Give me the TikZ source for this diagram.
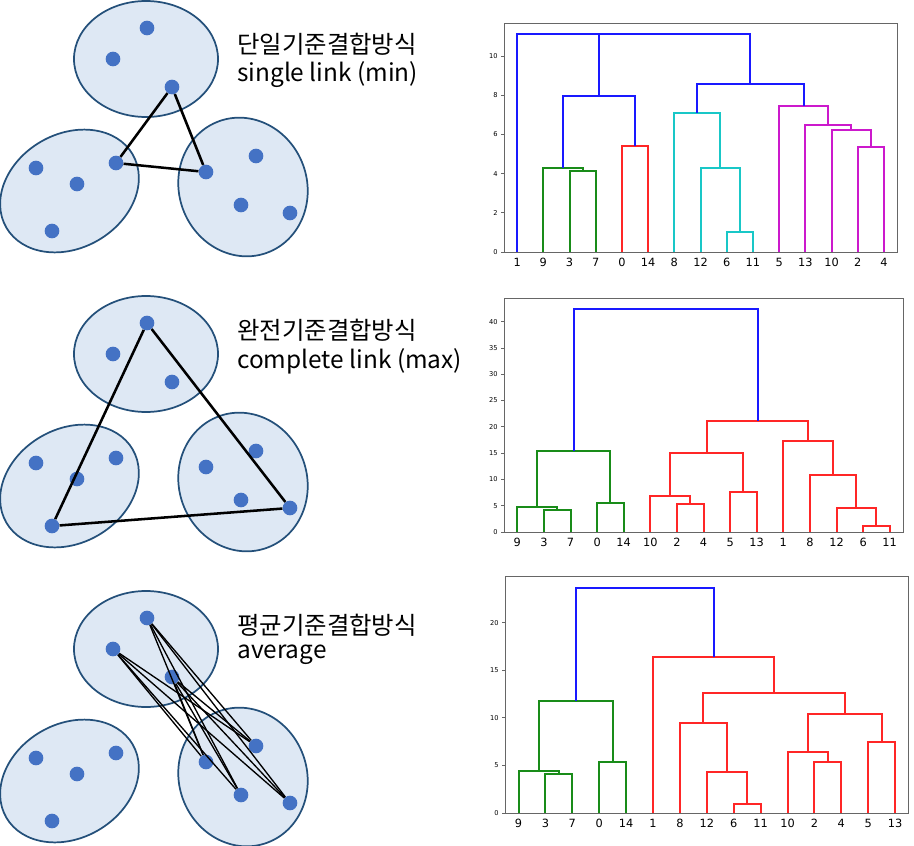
\documentclass[tikz,border=0pt]{standalone}
\usepackage{fontspec}
\newfontfamily\kofont{Noto Sans CJK KR}
\newfontfamily\plotfont{DejaVu Sans}
\usetikzlibrary{positioning}

\definecolor{clfill}{HTML}{DEE8F4}
\definecolor{cledge}{HTML}{24507A}
\definecolor{dotblue}{HTML}{4472C4}
\definecolor{dgreen}{rgb}{0.1,0.55,0.1}
\definecolor{dcyan}{rgb}{0.1,0.78,0.78}
\definecolor{dmagenta}{rgb}{0.8,0.1,0.8}
\definecolor{dred}{rgb}{1,0.15,0.15}
\definecolor{dblue}{rgb}{0.1,0.1,1}

% colour, left x, left height, right x, right height, merge height
\newcommand{\merge}[6]{\draw[link,#1] (#2,#3) -- (#2,#6) -- (#4,#6) -- (#4,#5);}

\begin{document}
\begin{tikzpicture}[
    x=0.75pt, y=-0.75pt,
    cluster/.style={draw=cledge, fill=clfill, line width=1.3pt},
    obs/.style={circle, fill=dotblue, inner sep=0pt, minimum size=11pt},
    tie/.style={line width=1.9pt},
    tiethin/.style={line width=1pt},
    heading/.style={font=\kofont\fontsize{18.3}{22}\selectfont, anchor=west, inner sep=0pt},
    link/.style={line width=1.5pt},
    axisbox/.style={draw=black!60, line width=0.7pt},
    ytick/.style={font=\plotfont\fontsize{5}{6}\selectfont, anchor=east, inner sep=1pt},
    leaf/.style={font=\plotfont\fontsize{8.5}{10}\selectfont, anchor=north, inner sep=1pt}
]
    \useasboundingbox (0,0) rectangle (914,846);

    \foreach \off [count=\r] in {0,295,590} {
        \begin{scope}[shift={(0,\off)}]
            \draw[cluster] (146,59) ellipse [x radius=72, y radius=58];
            \draw[cluster, rotate around={30:(69.5,191)}] (69.5,191) ellipse [x radius=73, y radius=57];
            \draw[cluster, rotate around={20:(243,187)}] (243,187) ellipse [x radius=64, y radius=70];
            \node[obs] (a\r-1) at (147,28) {};
            \node[obs] (a\r-2) at (113,59) {};
            \node[obs] (a\r-3) at (172,87) {};
            \node[obs] (b\r-1) at (36,168) {};
            \node[obs] (b\r-2) at (77,184) {};
            \node[obs] (b\r-3) at (52,231) {};
            \node[obs] (b\r-4) at (116,163) {};
            \node[obs] (c\r-1) at (256,156) {};
            \node[obs] (c\r-2) at (206,172) {};
            \node[obs] (c\r-3) at (241,205) {};
            \node[obs] (c\r-4) at (290,213) {};
        \end{scope}
    }

    \draw[tie] (a1-3) -- (b1-4);
    \draw[tie] (a1-3) -- (c1-2);
    \draw[tie] (b1-4) -- (c1-2);

    \draw[tie] (a2-1) -- (b2-3);
    \draw[tie] (a2-1) -- (c2-4);
    \draw[tie] (b2-3) -- (c2-4);

    \foreach \i in {1,2,3}
        \foreach \j in {1,...,4}
            \draw[tiethin] (a3-\i) -- (c3-\j);

    \node[heading] (single) at (237,44) {단일기준결합방식};
    \node[heading] (singleen) at (237,75) {single link (min)};
    \node[heading] (complete) at (237,330) {완전기준결합방식};
    \node[heading] (completeen) at (237,361) {complete link (max)};
    \node[heading] (average) at (237,625) {평균기준결합방식};
    \node[heading] (averageen) at (237,655) {average};

    % single link dendrogram
    \begin{scope}[shift={(517.1,252)}, xscale=26.2, yscale=-19.6]
        \merge{dgreen}{2}{0}{3}{0}{4.13}
        \merge{dgreen}{1}{0}{2.5}{4.13}{4.29}
        \merge{dred}{4}{0}{5}{0}{5.43}
        \merge{dblue}{1.75}{4.29}{4.5}{5.43}{7.94}
        \merge{dcyan}{8}{0}{9}{0}{1.0}
        \merge{dcyan}{7}{0}{8.5}{1.0}{4.29}
        \merge{dcyan}{6}{0}{7.75}{4.29}{7.11}
        \merge{dmagenta}{13}{0}{14}{0}{5.34}
        \merge{dmagenta}{12}{0}{13.5}{5.34}{6.22}
        \merge{dmagenta}{11}{0}{12.75}{6.22}{6.50}
        \merge{dmagenta}{10}{0}{11.875}{6.50}{7.47}
        \merge{dblue}{6.875}{7.11}{10.9375}{7.47}{8.55}
        \merge{dblue}{3.125}{7.94}{8.90625}{8.55}{11.10}
        \merge{dblue}{0}{0}{6.016}{11.10}{11.12}
        \foreach \v in {0,2,...,10} {
            \draw[black!60, line width=0.6pt] (-0.5,\v) -- (-0.63,\v);
            \node[ytick] (ya-\v) at (-0.68,\v) {\v};
        }
        \foreach \lab [count=\i from 0] in {1,9,3,7,0,14,8,12,6,11,5,13,10,2,4}
            \node[leaf] (la-\i) at (\i,-0.24) {\lab};
        \draw[axisbox] (-0.5,0) rectangle (14.5,11.67);
    \end{scope}

    % complete link dendrogram
    \begin{scope}[shift={(517.3,532)}, xscale=26.6, yscale=-5.26]
        \merge{dgreen}{1}{0}{2}{0}{4.12}
        \merge{dgreen}{0}{0}{1.5}{4.12}{4.69}
        \merge{dgreen}{3}{0}{4}{0}{5.51}
        \merge{dgreen}{0.75}{4.69}{3.5}{5.51}{15.34}
        \merge{dred}{6}{0}{7}{0}{5.39}
        \merge{dred}{5}{0}{6.5}{5.39}{6.91}
        \merge{dred}{8}{0}{9}{0}{7.54}
        \merge{dred}{5.75}{6.91}{8.5}{7.54}{14.96}
        \merge{dred}{13}{0}{14}{0}{1.20}
        \merge{dred}{12}{0}{13.5}{1.20}{4.50}
        \merge{dred}{11}{0}{12.75}{4.50}{10.84}
        \merge{dred}{10}{0}{11.875}{10.84}{17.36}
        \merge{dred}{7.125}{14.96}{10.9375}{17.36}{21.04}
        \merge{dblue}{2.125}{15.34}{9.03125}{21.04}{42.33}
        \foreach \v in {0,5,...,40} {
            \draw[black!60, line width=0.6pt] (-0.5,\v) -- (-0.63,\v);
            \node[ytick] (yb-\v) at (-0.68,\v) {\v};
        }
        \foreach \lab [count=\i from 0] in {9,3,7,0,14,10,2,4,5,13,1,8,12,6,11}
            \node[leaf] (lb-\i) at (\i,-0.89) {\lab};
        \draw[axisbox] (-0.5,0) rectangle (14.5,44.45);
    \end{scope}

    % average link dendrogram
    \begin{scope}[shift={(518.5,813)}, xscale=26.9, yscale=-9.52]
        \merge{dgreen}{1}{0}{2}{0}{4.10}
        \merge{dgreen}{0}{0}{1.5}{4.10}{4.41}
        \merge{dgreen}{3}{0}{4}{0}{5.39}
        \merge{dgreen}{0.75}{4.41}{3.5}{5.39}{11.80}
        \merge{dred}{8}{0}{9}{0}{0.98}
        \merge{dred}{7}{0}{8.5}{0.98}{4.34}
        \merge{dred}{6}{0}{7.75}{4.34}{9.42}
        \merge{dred}{11}{0}{12}{0}{5.32}
        \merge{dred}{10}{0}{11.5}{5.32}{6.44}
        \merge{dred}{13}{0}{14}{0}{7.46}
        \merge{dred}{10.75}{6.44}{13.5}{7.46}{10.43}
        \merge{dred}{6.875}{9.42}{12.125}{10.43}{12.64}
        \merge{dred}{5}{0}{9.5}{12.64}{16.35}
        \merge{dblue}{2.125}{11.80}{7.25}{16.35}{23.67}
        \foreach \v in {0,5,...,20} {
            \draw[black!60, line width=0.6pt] (-0.5,\v) -- (-0.63,\v);
            \node[ytick] (yc-\v) at (-0.68,\v) {\v};
        }
        \foreach \lab [count=\i from 0] in {9,3,7,0,14,1,8,12,6,11,10,2,4,5,13}
            \node[leaf] (lc-\i) at (\i,-0.49) {\lab};
        \draw[axisbox] (-0.5,0) rectangle (14.5,24.85);
    \end{scope}
\end{tikzpicture}
\end{document}
